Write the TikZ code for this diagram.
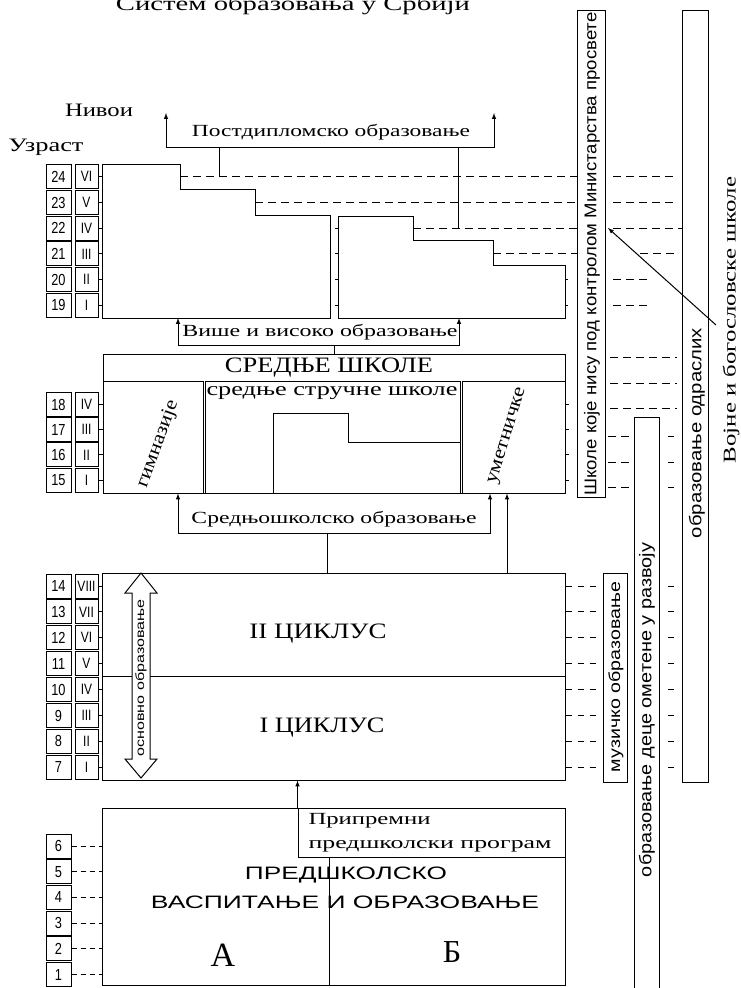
\documentclass[tikz,border=0pt]{standalone}
\usepackage{fontspec}
\usepackage{graphicx}
\setmainfont{Liberation Serif}
\newfontfamily\narrowsf[FakeStretch=0.8]{Liberation Sans}
\usetikzlibrary{calc}
\newcommand{\fs}[1]{\fontsize{#1}{#1}\selectfont}
\newcommand{\fitw}[2]{\resizebox{#1}{\height}{#2}}
\tikzset{
  agebox/.style={
    draw,
    inner sep = 0,
    minimum width = 25,
    minimum height = 24,
    font = \narrowsf\fs{16}
  },
  gradebox/.style={
    draw,
    inner sep = 0,
    minimum width = 23,
    minimum height = 24,
    font = \narrowsf\fs{15}
  },
  lvl/.style={
    dash pattern = on 8pt off 5pt
  },
  bar/.style={
    draw,
    inner sep = 0
  },
  block/.style={
    draw,
    inner sep = 0
  },
  bartext/.style={
    rotate = 90,
    inner sep = 0,
    font = \narrowsf\fs{17}
  },
  lab/.style={
    inner sep = 0,
    font = \fs{17}
  },
  caps/.style={
    inner sep = 0,
    font = \fs{22}
  }
}

\begin{document}
\begin{tikzpicture}[x=1pt, y=-1pt, line width=1pt]
  \useasboundingbox (0,0) rectangle (741,988);

  % headings
  \node[anchor=base, inner sep=0, font=\fs{20}] (title) at (293,10) {\fitw{354pt}{Систем образовања у Србији}};
  \node[inner sep=0, font=\fs{19}] (nivoi) at (99,110) {\fitw{68pt}{Нивои}};
  \node[inner sep=0, font=\fs{19}] (uzrast) at (46,147) {\fitw{75pt}{Узраст}};

  % side bars
  \node[bar, minimum width=28, minimum height=487] (bar1) at (591,253.5) {};
  \node[bar, minimum width=26, minimum height=772] (bar2) at (695,396) {};
  \node[bar, minimum width=25, minimum height=580] (bar3) at (646.5,707) {};
  \node[bar, minimum width=24, minimum height=209] (bar4) at (615,677.5) {};
  \node[bartext] (t1) at (592,254) {\fitw{483pt}{Школе које нису под контролом Министарства просвете}};
  \node[bartext] (t2) at (697,433) {\fitw{210pt}{образовање одраслих}};
  \node[bartext] (t3) at (647,710) {\fitw{334pt}{образовање деце ометене у развоју}};
  \node[bartext, font=\narrowsf\fs{16}] (t4) at (616,677) {\fitw{190pt}{музичко образовање}};
  \node[rotate=90, inner sep=0, font=\fs{18}] (vojne) at (731,320) {\fitw{286pt}{Војне и богословске школе}};
  \coordinate (vojtail) at (716,325);
  \coordinate (mintip) at (608,228);
  \draw[-latex] (vojtail) -- (mintip);

  % higher education
  \foreach \a/\r [count=\i from 0] in {24/VI,23/V,22/IV,21/III,20/II,19/I}{
    \node[agebox] (age\a) at (58.5,{176.8+25.7*\i}) {\a};
    \node[gradebox] (gr\a) at (86.5,{176.8+25.7*\i}) {\r};
    \draw (gr\a.east) -- ++(4,0);
  }
  \draw (102,164) -- (180,164) -- (180,189) -- (255,189) -- (255,215) -- (330,215) -- (330,318) -- (102,318) -- cycle;
  \draw (338,216) -- (413,216) -- (413,240) -- (493,240) -- (493,265) -- (565,265) -- (565,318) -- (338,318) -- cycle;
  \draw[lvl] (180,0 |- age24) -- (bar1.west |- age24);
  \draw[lvl] (255,0 |- age23) -- (bar1.west |- age23);
  \draw[lvl] (413,0 |- age22) -- (bar1.west |- age22);
  \draw[lvl] (493,0 |- age21) -- (bar1.west |- age21);
  \foreach \a/\xa/\xb in {24/613/676,23/613/676,22/613/682,21/640/676,20/613/650,19/613/650}
    \draw[lvl] (\xa,0 |- age\a) -- (\xb,0 |- age\a);
  \foreach \a in {22,21,20,19}
    \draw (335,0 |- age\a) -- (338,0 |- age\a);
  \foreach \a in {20,19}
    \draw (565,0 |- age\a) -- (568,0 |- age\a);

  \coordinate (pdL) at (166,113);
  \coordinate (pdR) at (494,113);
  \draw[latex-latex] (pdL) -- (166,147) -- (494,147) -- (pdR);
  \node[lab] (pdtext) at (331,132) {\fitw{278pt}{Постдипломско образовање}};
  \draw (219,147) -- (219,0 |- age24);
  \draw (458,147) -- (458,0 |- age22);

  % secondary schools
  \node[block, minimum width=462, minimum height=139] (sec) at (334,423.5) {};
  \node[block, minimum width=100, minimum height=112] (gym) at (153,437) {};
  \node[block, minimum width=255, minimum height=112] (voc) at (332.5,437) {};
  \node[block, minimum width=103, minimum height=112] (art) at (513.5,437) {};
  \draw (273,0 |- voc.south) -- (273,413) -- (348,413) -- (348,442) -- (voc.east |- 0,442);
  \node[caps] (sectext) at (329,368) {\fitw{208pt}{СРЕДЊЕ ШКОЛЕ}};
  \node[lab, font=\fs{19}] (voctext) at (332,393) {\fitw{251pt}{средње стручне школе}};
  \node[lab, font=\fs{19}, rotate=70] (gymtext) at (158,444) {\fitw{92pt}{гимназије}};
  \node[lab, font=\fs{19}, rotate=73] (arttext) at (508,436) {\fitw{100pt}{уметничке}};
  \foreach \a/\r [count=\i from 0] in {18/IV,17/III,16/II,15/I}{
    \node[agebox] (age\a) at (58.5,{404.5+25.2*\i}) {\a};
    \node[gradebox] (gr\a) at (86.5,{404.5+25.2*\i}) {\r};
    \draw (gr\a.east) -- (sec.west |- gr\a);
    \draw (sec.east |- age\a) -- ++(3,0);
  }
  \foreach \y in {357,383,408}
    \draw[lvl] (610,\y) -- (677,\y);
  \foreach \y in {436,462,487}{
    \draw[lvl] (608,\y) -- (631,\y);
    \draw (668,\y) -- (674,\y);
  }

  \draw[latex-latex] (178,318) -- (178,345) -- (459,345) -- (459,318);
  \node[lab] (vstext) at (320,332) {\fitw{275pt}{Више и високо образовање}};
  \draw (sec.north |- 0,345) -- (sec.north);

  % primary school
  \node[block, minimum width=463, minimum height=103] (cyc2) at (333.5,624.5) {};
  \node[block, minimum width=463, minimum height=104] (cyc1) at (333.5,728) {};
  \node[caps] (c2text) at (318,634) {\fitw{137pt}{II ЦИКЛУС}};
  \node[caps] (c1text) at (322,728) {\fitw{125pt}{I ЦИКЛУС}};
  \draw[fill=white] (141,573) -- (157,593) -- (150,593) -- (150,759) -- (157,759) -- (141,778)
    -- (125,759) -- (132,759) -- (132,593) -- (125,593) -- cycle;
  \node[rotate=90, inner sep=0, font=\narrowsf\fs{12}] (osn) at (141,678) {\fitw{157pt}{основно образовање}};
  \foreach \a/\r [count=\i from 0] in {14/VIII,13/VII,12/VI,11/V,10/IV,9/III,8/II,7/I}{
    \node[agebox] (age\a) at (58.5,{586+25.9*\i}) {\a};
    \node[gradebox] (gr\a) at (86.5,{586+25.9*\i}) {\r};
    \draw (gr\a.east) -- (cyc1.west |- gr\a);
    \draw[dash pattern=on 6pt off 6pt] (cyc1.east |- age\a) -- (598,0 |- age\a);
    \draw (668,0 |- age\a) -- (674,0 |- age\a);
  }

  \draw[latex-latex] (178,0 |- sec.south) -- (178,533) -- (490,533) -- (490,0 |- sec.south);
  \node[lab] (sstext) at (334,519) {\fitw{285pt}{Средњошколско образовање}};
  \draw (327,533) -- (327,0 |- cyc2.north);
  \draw[-latex] (507,0 |- cyc2.north) -- (507,0 |- sec.south);

  % preschool
  \node[block, minimum width=463, minimum height=177] (pre) at (333.5,896.5) {};
  \node[block, minimum width=267, minimum height=49] (prep) at (431.5,832.5) {};
  \draw (329,0 |- prep.south) -- (329,0 |- pre.south);
  \draw[-latex] (prep.north west) -- (prep.north west |- cyc1.south);
  \node[lab, anchor=west] (prep1) at (308,821) {\fitw{122pt}{Припремни}};
  \node[lab, anchor=west] (prep2) at (308,846) {\fitw{243pt}{предшколски програм}};
  \node[inner sep=0, font=\narrowsf\fs{18}] (pretext1) at (346,875) {\fitw{202pt}{ПРЕДШКОЛСКО}};
  \node[inner sep=0, font=\narrowsf\fs{18}] (pretext2) at (345,902) {\fitw{388pt}{ВАСПИТАЊЕ И ОБРАЗОВАЊЕ}};
  \node[inner sep=0, font=\fs{34}] (grpA) at (223,955) {А};
  \node[inner sep=0, font=\fs{32}] (grpB) at (452,952) {Б};
  \foreach \a [count=\i from 0] in {6,...,1}{
    \node[agebox] (age\a) at (58.5,{846+25.7*\i}) {\a};
    \draw[dash pattern=on 5pt off 4pt] (age\a.east) -- (pre.west |- age\a);
  }
\end{tikzpicture}
\end{document}
